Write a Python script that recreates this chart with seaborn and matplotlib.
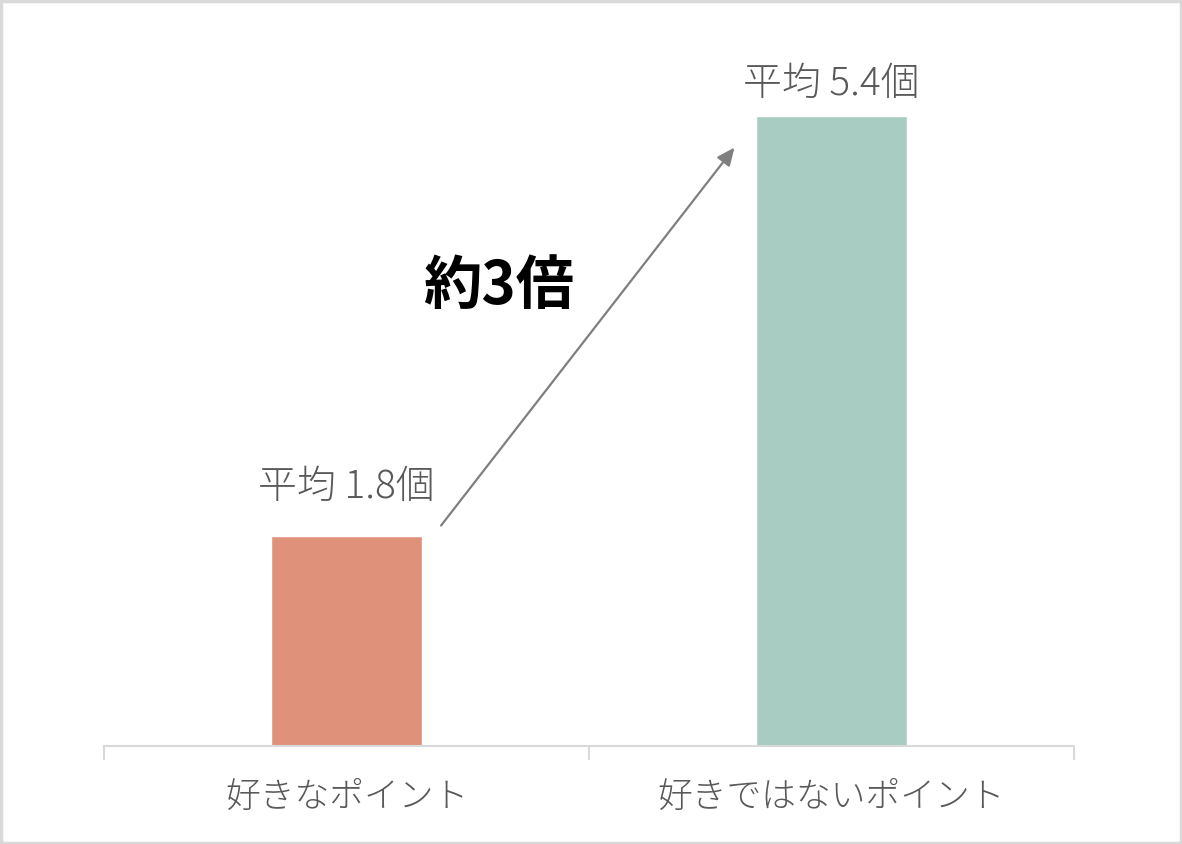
import matplotlib
matplotlib.use("Agg")
import matplotlib.pyplot as plt
import seaborn as sns
import pandas as pd
from matplotlib.patches import Rectangle

categories = ["好きなポイント", "好きではないポイント"]
values = [1.8, 5.4]
value_labels = ["平均 1.8個", "平均 5.4個"]
bar_colors = ["#E0917A", "#A8CCC1"]
ratio_label = "約3倍"

sns.set_theme(style="white")
plt.rcParams["font.family"] = ["Noto Sans CJK JP", "DejaVu Sans"]

df = pd.DataFrame({"category": categories, "value": values})

fig = plt.figure(figsize=(11.82, 8.44), dpi=100)
ax = fig.add_axes([104 / 1182, 98 / 844, 970 / 1182, 700 / 844])

bar_w = 0.31
sns.barplot(data=df, x="category", y="value", hue="category",
            palette=bar_colors, width=bar_w, ax=ax, legend=False,
            saturation=1)

ax.set_xlim(-0.5, 1.5)
ax.set_ylim(0, 6)
ax.set_xlabel("")
ax.set_ylabel("")
ax.set_yticks([])
for s in ["top", "right", "left"]:
    ax.spines[s].set_visible(False)
ax.spines["bottom"].set_color("#d9d9d9")
ax.spines["bottom"].set_linewidth(1.5)

# category boundary ticks
ax.set_xticks([-0.5, 0.5, 1.5], minor=True)
ax.tick_params(axis="x", which="minor", length=10, width=1.5, color="#d9d9d9", bottom=True)
ax.tick_params(axis="x", which="major", length=0, pad=24, labelsize=25, labelcolor="#595959")
for t in ax.get_xticklabels():
    t.set_fontweight("light")

offsets = [35, 23]
for i, (v, lab) in enumerate(zip(values, value_labels)):
    ax.annotate(lab, xy=(i, v), xytext=(0, offsets[i]), textcoords="offset points",
                ha="center", va="center", fontsize=28, color="#595959",
                fontweight="light")

# arrow
start = (0 + bar_w / 2 + 0.04, values[0] + 0.09)
end = (1 - bar_w / 2 - 0.045, values[1] - 0.27)
ax.annotate("", xy=end, xytext=start,
            arrowprops=dict(arrowstyle="-|>,head_length=0.9,head_width=0.4",
                            color="#7f7f7f", lw=1.6, shrinkA=0, shrinkB=0))

ax.text(499 / 1182, 1 - 287 / 844, ratio_label, transform=fig.transFigure,
        ha="center", va="center", fontsize=42, fontweight="bold", color="black")

fig.patches.append(Rectangle((0.001, 0.001), 0.998, 0.998, transform=fig.transFigure,
                             fill=False, edgecolor="#d9d9d9", linewidth=2.5))

fig.savefig("out.png", dpi=100)
